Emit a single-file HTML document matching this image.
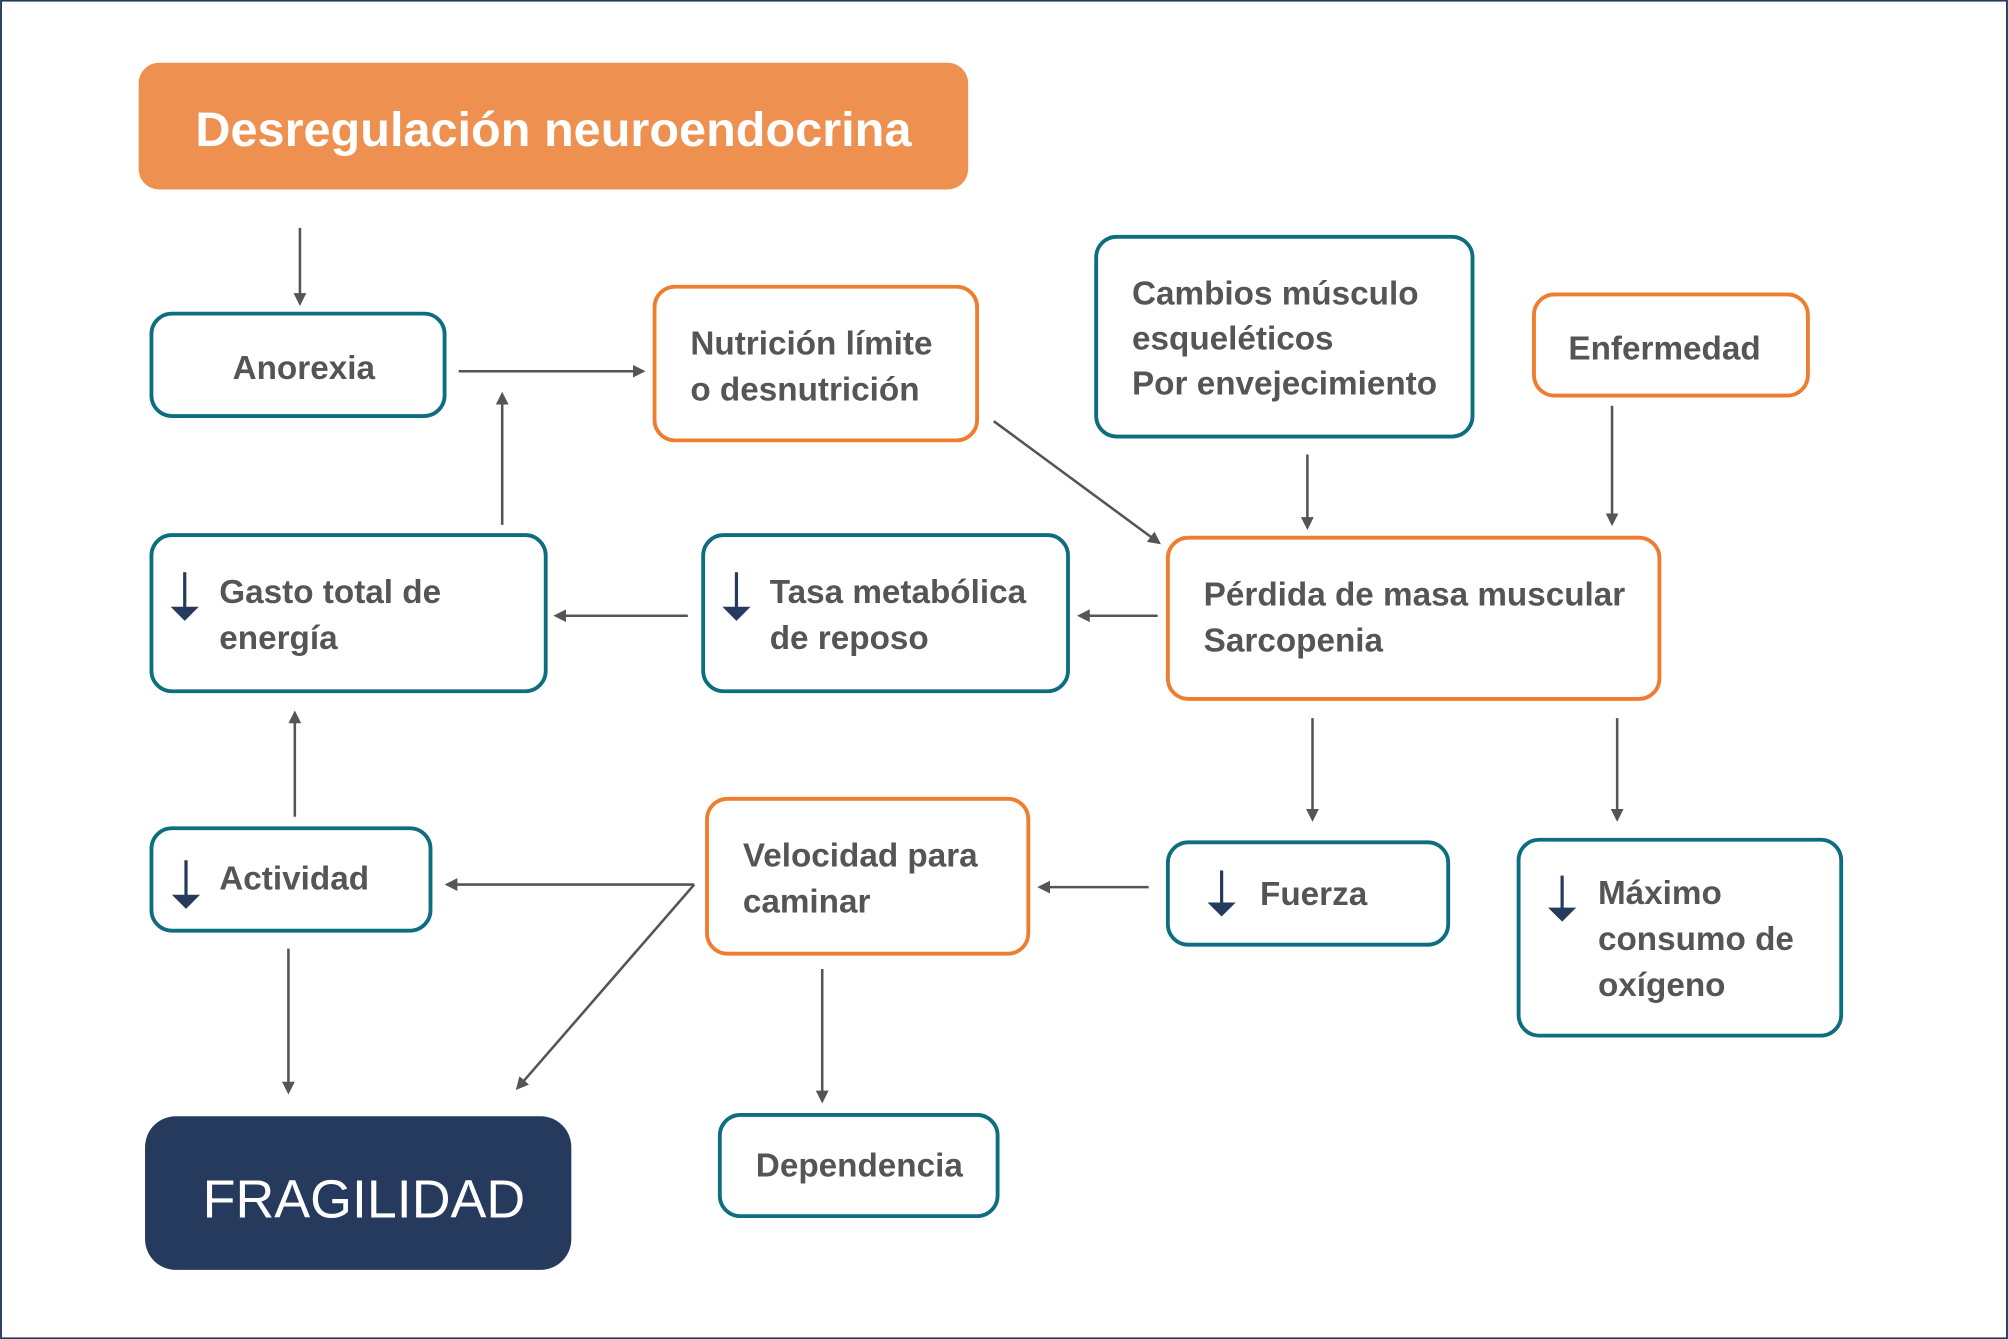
<!DOCTYPE html>
<html><head><meta charset="utf-8"><style>
html,body{margin:0;padding:0;background:#fff}
svg{display:block}
text{font-family:"Liberation Sans",sans-serif;font-weight:bold;fill:#555}
</style></head><body>
<svg width="2008" height="1339" viewBox="0 0 1568 1046" xmlns="http://www.w3.org/2000/svg">
<defs>
<marker id="a" markerWidth="10" markerHeight="10" refX="8" refY="5" orient="auto" markerUnits="userSpaceOnUse" viewBox="0 0 10 10"><path d="M0,0 L10,5 L0,10 z" fill="#555"/></marker>
</defs>
<rect x="0.5" y="0.5" width="1567" height="1045" fill="#fff" stroke="#263a5e" stroke-width="1.5"/>
<rect x="108" y="49" width="648" height="99" rx="16" fill="#ee9150"/>
<text x="432" y="114" text-anchor="middle" font-size="38" style="fill:#fff">Desregulación neuroendocrina</text>
<g fill="#fff" stroke-width="3">
<rect x="118" y="245" width="229" height="80" rx="16" stroke="#0d6e80"/>
<rect x="511" y="224" width="252" height="120" rx="16" stroke="#ee7d2f"/>
<rect x="856" y="185" width="294" height="156" rx="16" stroke="#0d6e80"/>
<rect x="1198" y="230" width="214" height="79" rx="16" stroke="#ee7d2f"/>
<rect x="118" y="418" width="308" height="122" rx="16" stroke="#0d6e80"/>
<rect x="549" y="418" width="285" height="122" rx="16" stroke="#0d6e80"/>
<rect x="912" y="420" width="384" height="126" rx="16" stroke="#ee7d2f"/>
<rect x="118" y="647" width="218" height="80" rx="16" stroke="#0d6e80"/>
<rect x="552" y="624" width="251" height="121" rx="16" stroke="#ee7d2f"/>
<rect x="912" y="658" width="219" height="80" rx="16" stroke="#0d6e80"/>
<rect x="1186" y="656" width="252" height="153" rx="16" stroke="#0d6e80"/>
<rect x="562" y="871" width="217" height="79" rx="16" stroke="#0d6e80"/>
</g>
<rect x="113" y="872" width="333" height="120" rx="24" fill="#263a5e"/>
<text x="284" y="951" text-anchor="middle" font-size="42" style="fill:#fff;font-weight:normal">FRAGILIDAD</text>
<g font-size="26">
<text x="237" y="296" text-anchor="middle">Anorexia</text>
<text x="539" y="277">Nutrición límite</text>
<text x="539" y="313">o desnutrición</text>
<text x="884" y="238">Cambios músculo</text>
<text x="884" y="273">esqueléticos</text>
<text x="884" y="308">Por envejecimiento</text>
<text x="1300" y="281" text-anchor="middle">Enfermedad</text>
<text x="171" y="471">Gasto total  de</text>
<text x="171" y="507">energía</text>
<text x="601" y="471">Tasa metabólica</text>
<text x="601" y="507">de reposo</text>
<text x="940" y="473">Pérdida de masa muscular</text>
<text x="940" y="509">Sarcopenia</text>
<text x="171" y="695">Actividad</text>
<text x="580" y="677">Velocidad para</text>
<text x="580" y="713">caminar</text>
<text x="984" y="707">Fuerza</text>
<text x="1248" y="706">Máximo</text>
<text x="1248" y="742">consumo de</text>
<text x="1248" y="778">oxígeno</text>
<text x="671" y="919" text-anchor="middle">Dependencia</text>
</g>
<g stroke="#263a5e" stroke-width="2.5" fill="#263a5e">
<line x1="144" y1="447" x2="144" y2="478"/><path d="M133,474 L155,474 L144,485z" stroke="none"/>
<line x1="575" y1="447" x2="575" y2="478"/><path d="M564,474 L586,474 L575,485z" stroke="none"/>
<line x1="145" y1="672" x2="145" y2="703"/><path d="M134,699 L156,699 L145,710z" stroke="none"/>
<line x1="954" y1="680" x2="954" y2="709"/><path d="M943,705 L965,705 L954,716z" stroke="none"/>
<line x1="1220" y1="684" x2="1220" y2="713"/><path d="M1209,709 L1231,709 L1220,720z" stroke="none"/>
</g>
<g stroke="#555" stroke-width="2" marker-end="url(#a)">
<line x1="234" y1="178" x2="234" y2="237"/>
<line x1="358" y1="290" x2="502" y2="290"/>
<line x1="392" y1="410" x2="392" y2="308"/>
<line x1="776" y1="329" x2="905" y2="424"/>
<line x1="1021" y1="355" x2="1021" y2="412"/>
<line x1="1259" y1="317" x2="1259" y2="409"/>
<line x1="904" y1="481" x2="843" y2="481"/>
<line x1="537" y1="481" x2="434" y2="481"/>
<line x1="230" y1="638" x2="230" y2="557"/>
<line x1="1025" y1="561" x2="1025" y2="640"/>
<line x1="1263" y1="561" x2="1263" y2="640"/>
<line x1="897" y1="693" x2="812" y2="693"/>
<line x1="542" y1="691" x2="349" y2="691"/>
<line x1="542" y1="691" x2="404" y2="850"/>
<line x1="225" y1="741" x2="225" y2="853"/>
<line x1="642" y1="757" x2="642" y2="860"/>
</g>
</svg>
</body></html>
